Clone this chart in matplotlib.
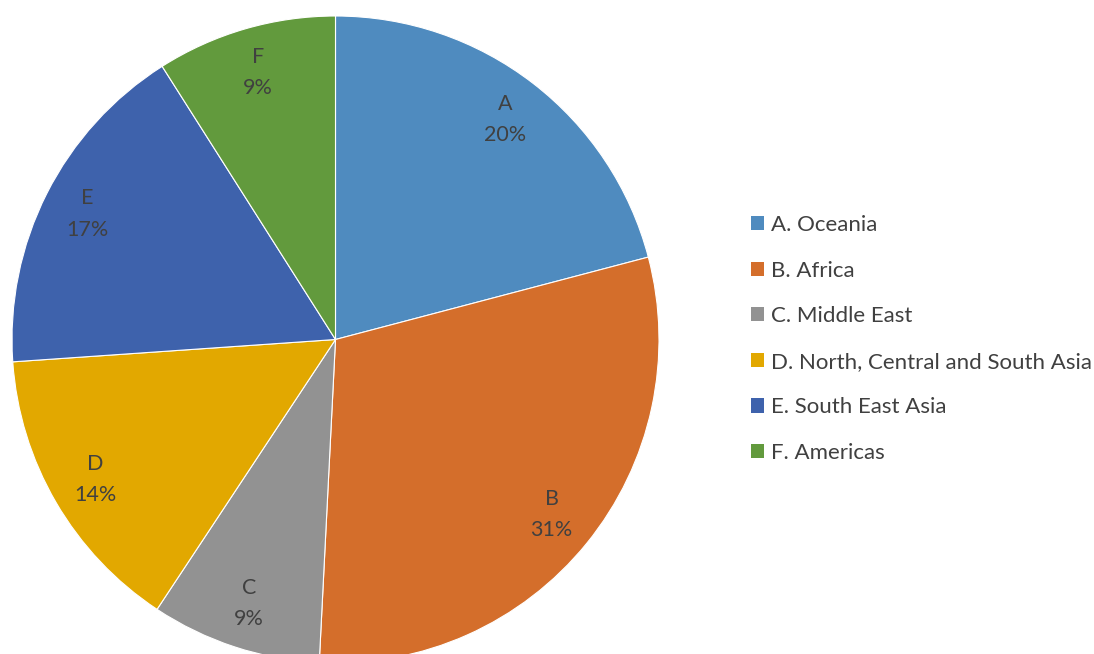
import matplotlib
matplotlib.use("Agg")
import matplotlib.pyplot as plt
from matplotlib.patches import Patch
import numpy as np

letters = ["A", "B", "C", "D", "E", "F"]
categories = ["A. Oceania", "B. Africa", "C. Middle East",
              "D. North, Central and South Asia", "E. South East Asia", "F. Americas"]
values = [20.9, 29.9, 8.5, 14.6, 17.1, 9.0]
pct_labels = ["20%", "31%", "9%", "14%", "17%", "9%"]
colors = ["#4F8BBF", "#D46E2B", "#929292", "#E2A800", "#3E62AC", "#629A3D"]

plt.rcParams['font.family'] = ['Lato', 'DejaVu Sans']

W, H = 1094, 654
fig = plt.figure(figsize=(W / 100, H / 100), dpi=100)
cx, cy, r = 335.5, 339.5, 323.5
ax = fig.add_axes([(cx - r) / W, 1 - (cy + r) / H, 2 * r / W, 2 * r / H])

wedges, _ = ax.pie(values, colors=colors, startangle=90, counterclock=False,
                   radius=1, wedgeprops=dict(edgecolor='white', linewidth=0.8))
ax.set_xlim(-1, 1)
ax.set_ylim(-1, 1)
ax.set_aspect('equal')
ax.axis('off')
for w in wedges:
    w.set_clip_on(False)

cum = np.cumsum([0] + values)
tot = cum[-1]
for i, (l, p) in enumerate(zip(letters, pct_labels)):
    mid = (cum[i] + cum[i + 1]) / 2 / tot * 2 * np.pi
    d = 0.86
    x = d * np.sin(mid)
    y = d * np.cos(mid)
    ax.text(x, y, f"{l}\n{p}", ha='center', va='center', fontsize=15.5,
            color='#404040', linespacing=1.7)

handles = [Patch(facecolor=c, edgecolor='none') for c in colors]
fig.legend(handles, categories, loc='center left',
           bbox_to_anchor=(751 / W, 1 - 339 / H), frameon=False,
           fontsize=16, labelcolor='#404040', handlelength=0.6,
           handleheight=0.6, handletextpad=0.3, labelspacing=1.15,
           borderpad=0, borderaxespad=0)

fig.savefig("out.png", dpi=100)
